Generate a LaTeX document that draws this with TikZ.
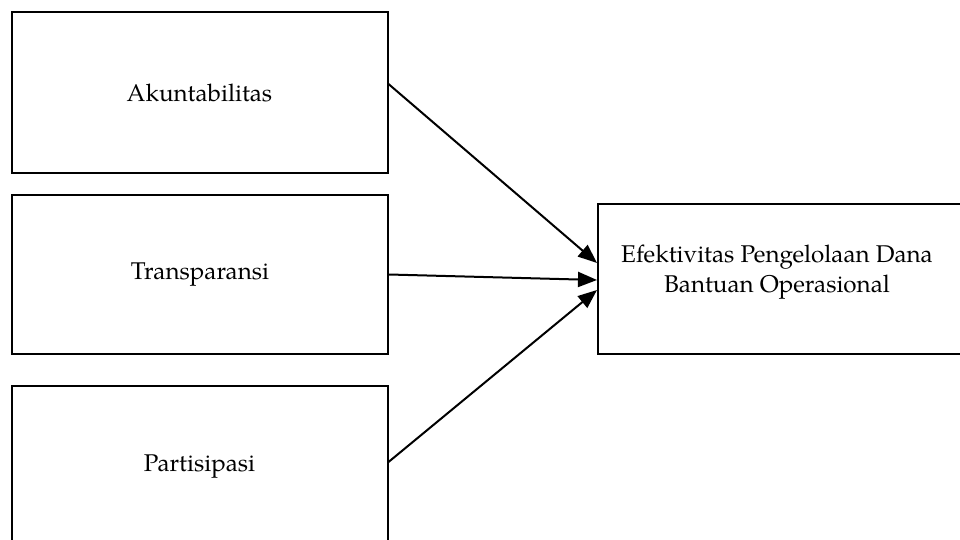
\documentclass[tikz,border=0pt]{standalone}
\usepackage{fontspec}
\setmainfont{texgyrepagella}[Extension=.otf,UprightFont=*-regular,BoldFont=*-bold,ItalicFont=*-italic,BoldItalicFont=*-bolditalic]
\usetikzlibrary{arrows.meta}
\tikzset{
  box/.style={draw=black, line width=2pt, minimum width=376pt, inner sep=0pt, align=center},
  lbl/.style={font=\fontsize{24.2}{30}\selectfont},
  conn/.style={line width=2pt, -{Triangle[length=19pt,width=15pt]}}
}
\begin{document}
\begin{tikzpicture}[x=1pt,y=-1pt]
\clip (0,0) rectangle (960,540);
\fill[white] (0,0) rectangle (960,540);
\node[box, lbl, minimum height=161pt] (A) at (199.5,92.5) {Akuntabilitas};
\node[box, lbl, minimum height=159pt] (T) at (200,274.5) {Transparansi};
\node[box, lbl, minimum height=162pt] (P) at (199.5,467) {Partisipasi};
\node[draw=black, line width=2pt, minimum width=370pt, minimum height=150pt, inner sep=0pt] (R) at (783,279) {};
\node[lbl, align=center, inner sep=0pt] (Rt) at (777,272) {Efektivitas Pengelolaan Dana\\Bantuan Operasional};
\draw[conn] ([yshift=8.5pt]A.east) -- ([yshift=16pt]R.west);
\draw[conn] (T.east) -- ([yshift=-1pt]R.west);
\draw[conn] ([yshift=5pt]P.east) -- ([yshift=-11pt]R.west);
\end{tikzpicture}
\end{document}
